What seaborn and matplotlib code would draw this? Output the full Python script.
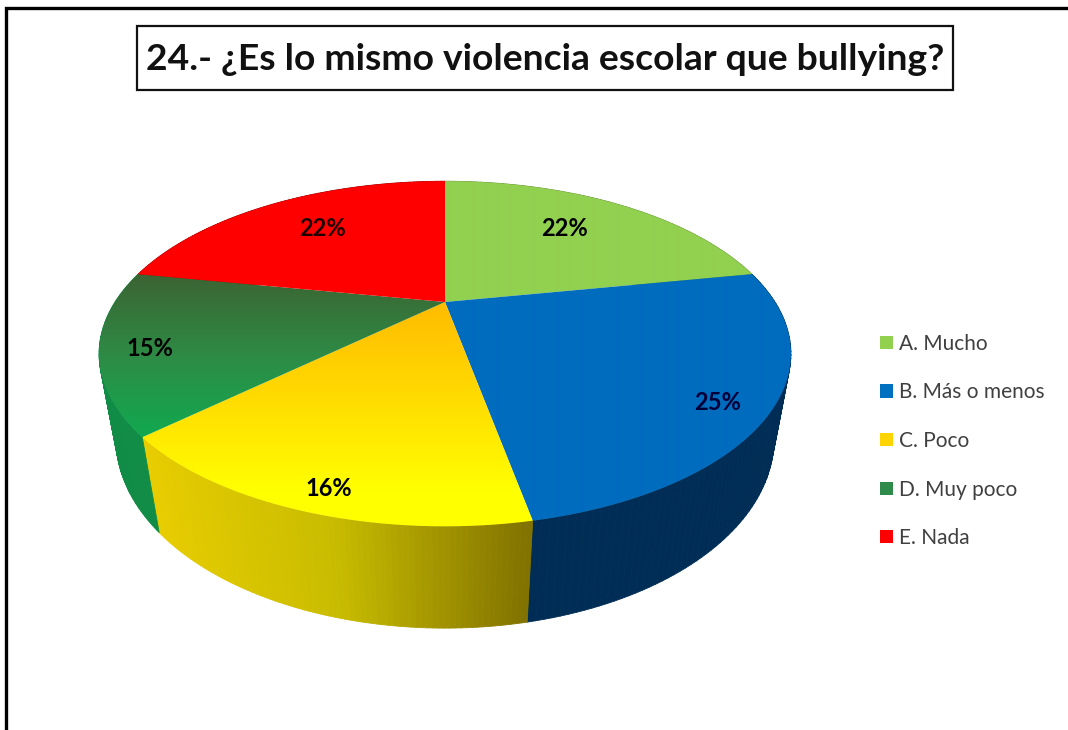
import numpy as np
import seaborn as sns
import matplotlib.pyplot as plt
from matplotlib.collections import PolyCollection
from matplotlib.patches import Patch, Polygon, Rectangle

title = '24.- ¿Es lo mismo violencia escolar que bullying?'
categories = ['A. Mucho', 'B. Más o menos', 'C. Poco', 'D. Muy poco', 'E. Nada']
values = [22, 25, 16, 15, 22]
legend_colors = ['#92D050', '#0070C0', '#FFD400', '#2E8B4A', '#FF0000']

sns.set_theme(style='white')
plt.rcParams['font.family'] = ['Lato', 'DejaVu Sans']

fig, ax = plt.subplots(figsize=(10.68, 7.30), dpi=100)
fig.subplots_adjust(0, 0, 1, 1)


def project(theta, layer=0.0):
    # perspective view of the disc, layer 1 is the lower rim
    u, v = np.sin(theta), np.cos(theta)
    w = 1 + 0.3 * v + 0.047 * layer
    return 445 + 330 * u / w, 302 - (157 * v - 86.6 * layer) / w


# colours per slice: top face runs top to bottom, rim runs left to right
top_colors = [['#92D050', '#92D050'],
              ['#006CBE', '#006CBE'],
              ['#FFBE00', '#FFDC00', '#FFFF00'],
              ['#3C6432', '#2D8C46', '#10AA50'],
              ['#FF0000', '#FF0000']]
top_span = [(180, 300), (270, 530), (310, 490), (275, 440), (180, 305)]
rim_colors = [['#6C9A3C', '#6C9A3C'],
              ['#002D55', '#002D55'],
              ['#E8CD00', '#C8BC00', '#827300'],
              ['#108C46', '#108C46'],
              ['#A00000', '#A00000']]
rim_span = [(445, 790), (528, 790), (143, 530), (100, 157), (100, 445)]

edges = np.radians(np.concatenate([[0], np.cumsum(values)]) / sum(values) * 360)

# rim first, the top faces hide whatever is behind them
for i in range(len(values)):
    th = np.linspace(edges[i], edges[i + 1], 80)
    x0, y0 = project(th)
    x1, y1 = project(th, 1.0)
    quads = [[(x0[j], y0[j]), (x0[j + 1], y0[j + 1]), (x1[j + 1], y1[j + 1]), (x1[j], y1[j])]
             for j in range(len(th) - 1)]
    cmap = sns.blend_palette(rim_colors[i], as_cmap=True)
    pos = (x0[:-1] - rim_span[i][0]) / (rim_span[i][1] - rim_span[i][0])
    rim = PolyCollection(quads, facecolors=cmap(np.clip(pos, 0, 1)), edgecolors='face',
                         linewidths=0.6, zorder=1)
    ax.add_collection(rim)

for i in range(len(values)):
    th = np.linspace(edges[i], edges[i + 1], 120)
    x0, y0 = project(th)
    poly = Polygon(np.column_stack([np.r_[445, x0], np.r_[302, y0]]), closed=True,
                   transform=ax.transData, facecolor='none', edgecolor='none')
    ax.add_patch(poly)
    cmap = sns.blend_palette(top_colors[i], as_cmap=True)
    # gradient over the whole slice, clamped outside its span
    grad = np.clip((np.arange(150, 560) - top_span[i][0]) / (top_span[i][1] - top_span[i][0]), 0, 1)
    im = ax.imshow(grad.reshape(-1, 1), cmap=cmap, aspect='auto', vmin=0, vmax=1, origin='upper',
                   extent=(60, 830, 560, 150), interpolation='bilinear', zorder=2)
    im.set_clip_path(poly)

# percent labels
label_x = [565, 718, 329, 150, 322]
label_y = [228, 402, 489, 348, 228]
label_c = ['black', '#000038', 'black', 'black', '#200000']
for v, lx, ly, lc in zip(values, label_x, label_y, label_c):
    ax.text(lx, ly, f'{v}%', ha='center', va='center', fontsize=17, fontweight='bold', color=lc, zorder=3)

# title box and the screenshot frame
ax.add_patch(Rectangle((136.5, 26), 816, 64, facecolor='white', edgecolor='#111111', linewidth=1.6, zorder=3))
ax.text(545, 60, title, ha='center', va='center', fontsize=26.8, fontweight='bold', color='#111111', zorder=4)
ax.plot([6, 6, 1068], [730, 8, 8], color='black', linewidth=2.4, solid_joinstyle='miter')

handles = [Patch(facecolor=c, edgecolor='none') for c in legend_colors]
ax.legend(handles, categories, loc='center left', bbox_to_anchor=(872 / 1068, 1 - 441 / 730),
          frameon=False, fontsize=15, labelcolor='#404040', labelspacing=1.37,
          handlelength=0.6, handleheight=0.6, handletextpad=0.3, borderpad=0, borderaxespad=0.4)

ax.set_xlim(0, 1068)
ax.set_ylim(730, 0)
ax.axis('off')
fig.savefig('out.png', dpi=100, facecolor='white')
